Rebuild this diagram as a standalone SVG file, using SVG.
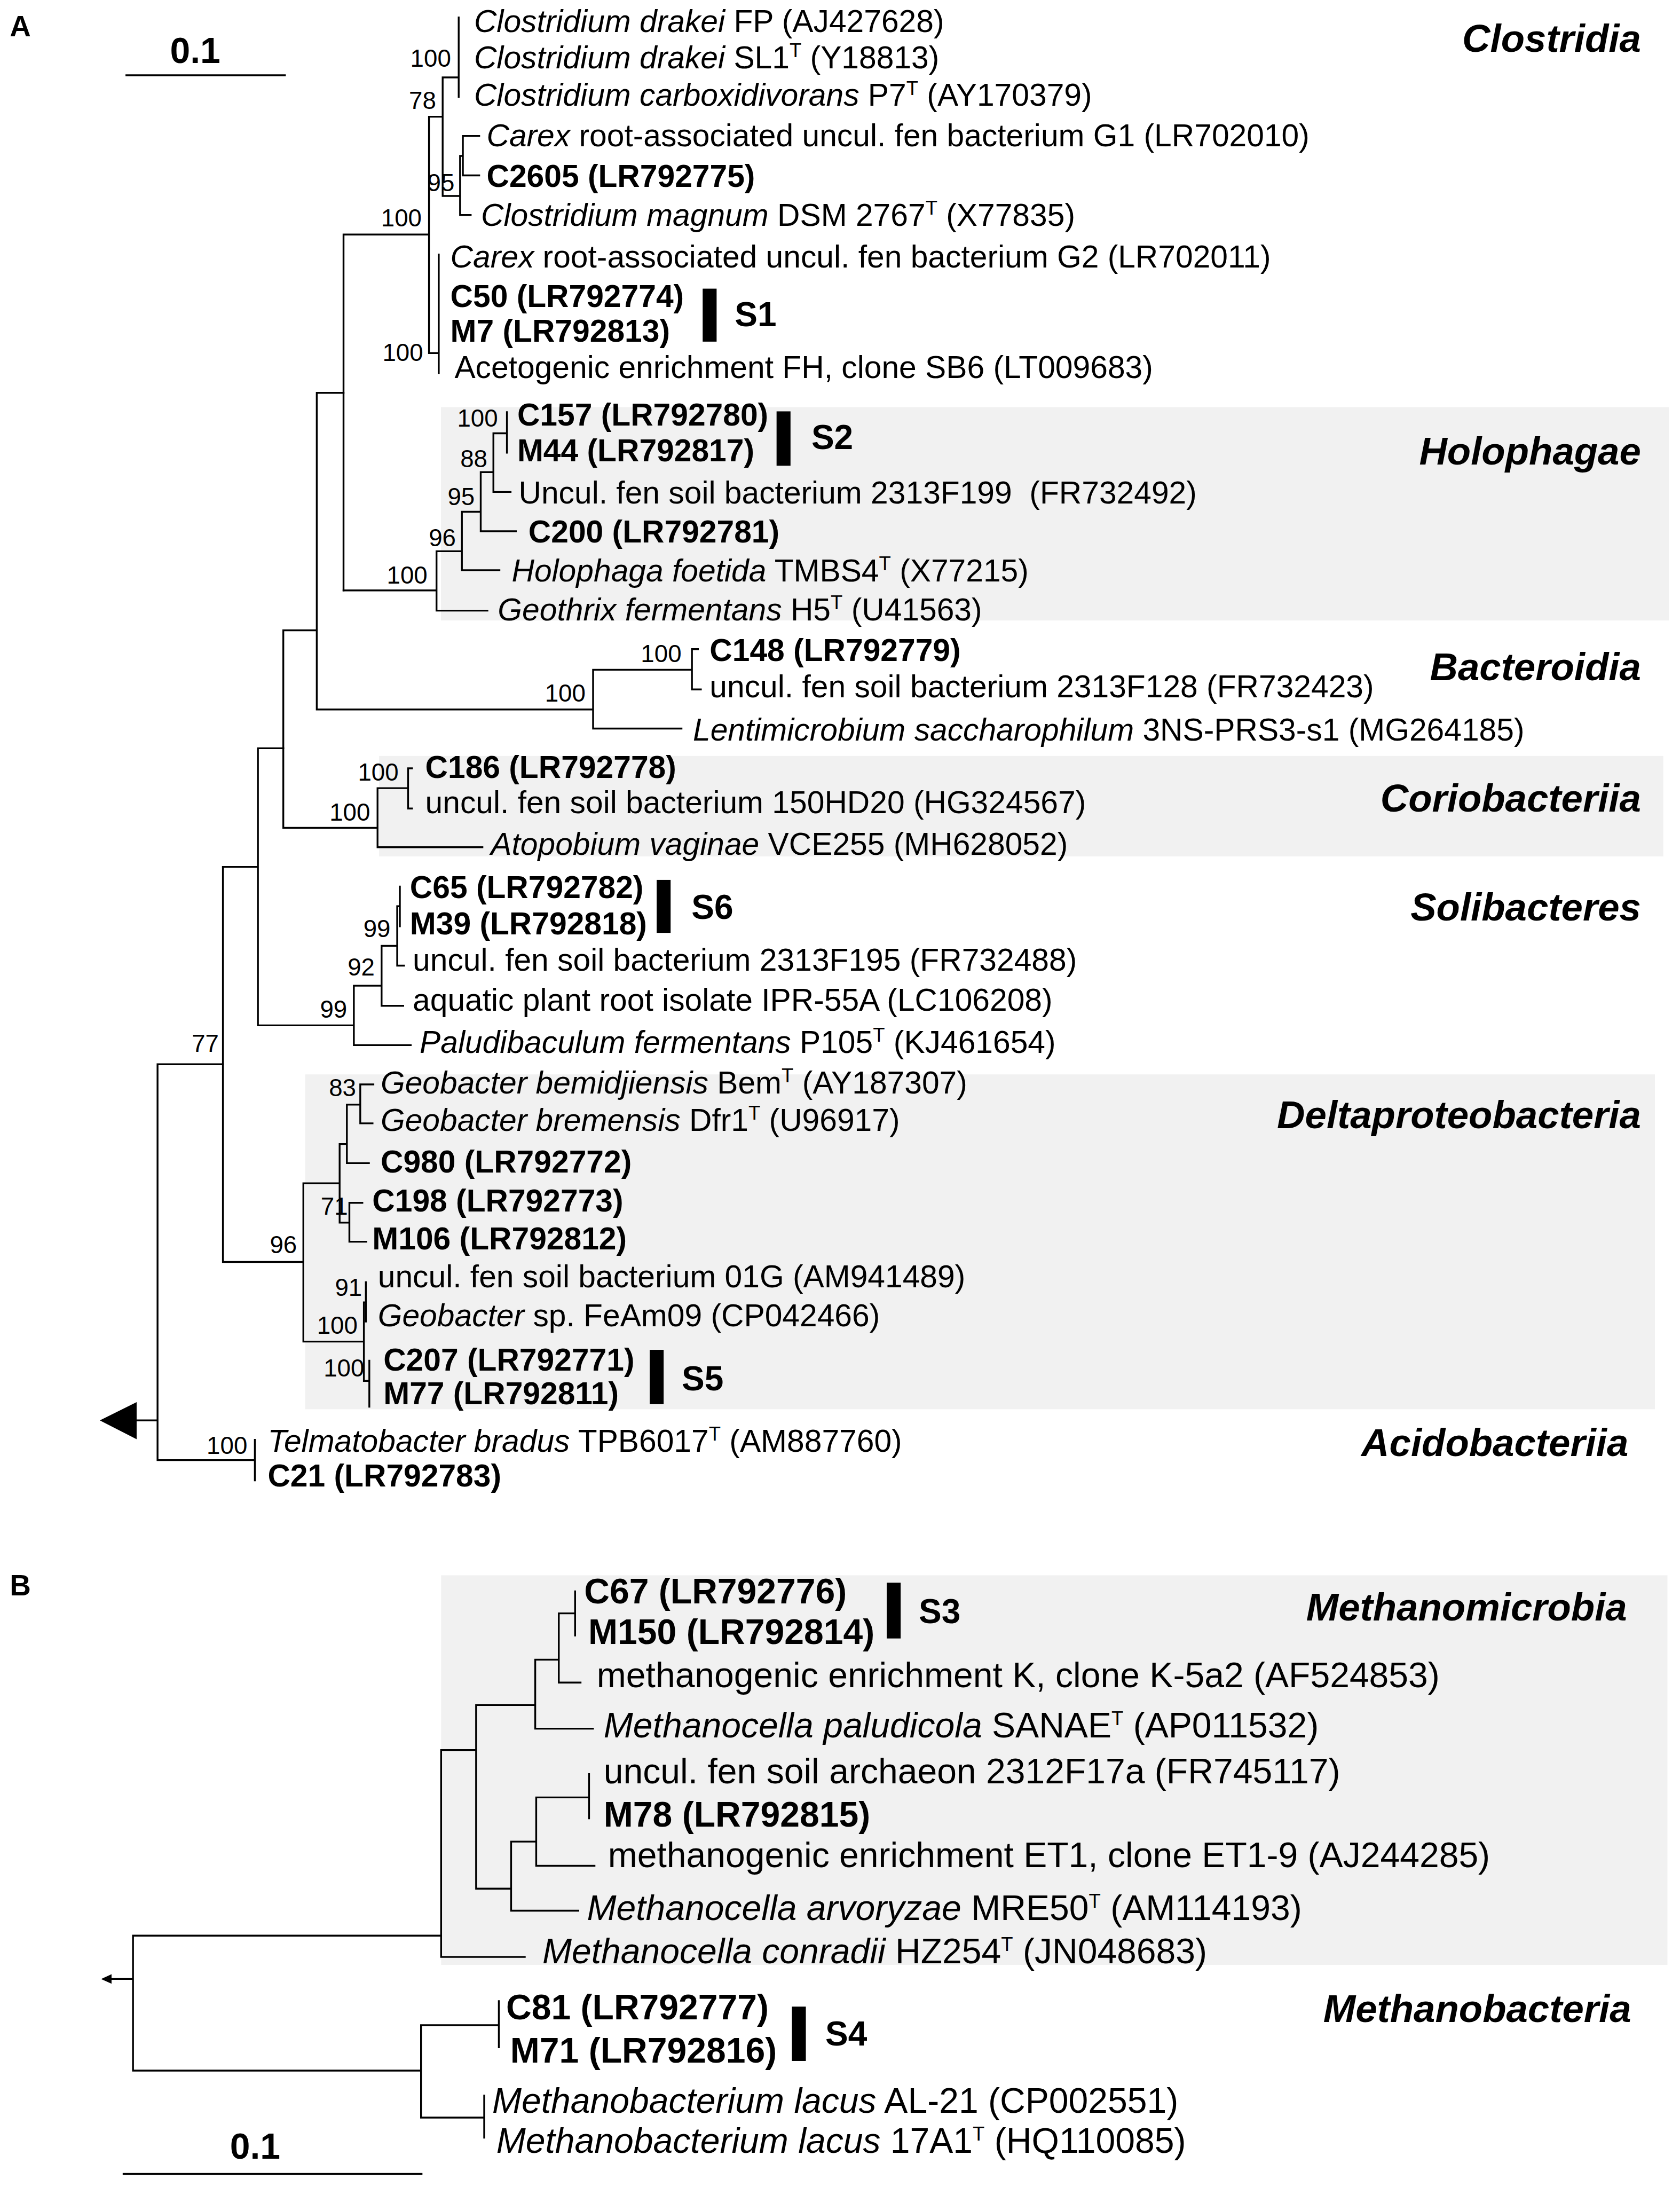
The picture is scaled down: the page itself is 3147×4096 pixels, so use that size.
<svg xmlns="http://www.w3.org/2000/svg" width="3147" height="4096" viewBox="0 0 3147 4096">
<style>
text{font-family:"Liberation Sans",Arial,sans-serif;fill:#000}
.t{font-size:22.5px}
.tb{font-size:25.3px}
.b{font-weight:bold}
.i{font-style:italic}
.bs{font-size:17.5px;text-anchor:end}
.g{font-size:27.8px;font-weight:bold;font-style:italic;text-anchor:end}
.s{font-size:24.5px;font-weight:bold}
.box{fill:#f1f1f1}
.tree path{fill:none;stroke:#000;stroke-width:1.3;stroke-linecap:square}
.sup{font-size:14px}
</style>
<rect width="3147" height="4096" fill="#fff"/>
<g transform="scale(2.61162)">
<g id="boxes">
<rect class="box" x="316.3" y="292" width="880.7" height="153"/>
<rect class="box" x="271.9" y="542.1" width="921.1" height="72.1"/>
<rect class="box" x="218.9" y="770.5" width="968.1" height="240.1"/>
<rect class="box" x="316.4" y="1129.7" width="879.6" height="279.4"/>
</g>
<g id="panel-labels">
<text class="b" x="7" y="26" font-size="21">A</text>
<text class="b" x="7" y="1144" font-size="21">B</text>
</g>
<g id="scale-a"><text class="b" x="140" y="45" font-size="26" text-anchor="middle">0.1</text><path d="M90,54H205" stroke="#000" stroke-width="1.3"/></g>
<g id="scale-b"><text class="b" x="183" y="1548" font-size="26" text-anchor="middle">0.1</text><path d="M88,1559H303" stroke="#000" stroke-width="1.3"/></g>
<g id="connectors" class="tree">
<path d="M329,12.5V69.4M317.5,55.5H329M317.5,55.5V140.5M307.7,83.7H317.5M317.5,140.5H330M330,111.8V154.2M330,154.2H337.6M330,111.8H332M332,97.5V125.8M332,97.5H343.7M332,125.8H343.7M307.7,83.7V253.2M307.7,253.2H314.7M314.7,182.5V267.5M246.4,168.2H307.7M246.4,168.2V423.4"/>
<path d="M246.4,423.4H313.1M313.1,395.3V437.9M313.1,437.9H349.6M313.1,395.3H331.3M331.3,367V408.9M331.3,408.9H358.2M331.3,367H344.8M344.8,338.6V381M344.8,381H370M344.8,338.6H353.9M353.9,310.7V352.8M353.9,352.8H366.2M353.9,310.7H363.6M363.6,295.6V324.6"/>
<path d="M227.2,281.7V508.8M227.2,281.7H246.4M227.2,508.8H425.4M425.4,480.3V522.5M425.4,522.5H488.8M425.4,480.3H496.3M496.3,465.5V494.4M496.3,465.5H500.6M496.3,494.4H502.7"/>
<path d="M203.2,452V593.7M203.2,452H227.2M203.2,593.7H270.8M270.8,565.2V607.6M270.8,607.6H346M270.8,565.2H292.7M292.7,551V579.8M292.7,551H295.5M292.7,579.8H295.5"/>
<path d="M185,536.6V735.3M185,536.6H203.2M159.9,621.7H185M185,735.3H253.8M253.8,706.9V749.5M253.8,749.5H294.6M253.8,706.9H273.7M273.7,678.3V721.3M273.7,721.3H289.2M273.7,678.3H284.9M284.9,649.9V692.5M284.9,692.5H289.8M284.9,649.9H286.8M286.8,635.8V664.3"/>
<path d="M159.9,621.7V905M159.9,905H217.6M217.6,848.6V962.1M217.6,848.6H243.6M243.6,820.4V876.8M243.6,820.4H248.8M248.8,792.2V834.1M248.8,834.1H264.6M248.8,792.2H258.4M258.4,777.7V805.6M258.4,777.7H267.8M258.4,805.6H267.2M243.6,876.8H250.6M250.6,862.6V890.5M250.6,862.6H259.9M250.6,890.5H262.7M217.6,962.1H261M261,934V990.3M261,934H262.4M262.4,919.5V947.7M261,990.3H264.9M264.9,975.8V1008.8"/>
<path d="M113,763.2H159.9M113,763.2V1047.1M113,1047.1H182.8M182.8,1032.6V1061.6M98,1018.6H113"/>
<path d="M80,1419.2H95.4M95.4,1388.1V1484.9M95.4,1388.1H316.4M316.4,1255V1403.4M316.4,1403.4H376.4M316.4,1255H341.5M341.5,1222.7V1354.4M341.5,1222.7H383.9M383.9,1190.2V1239.7M383.9,1239.7H425.3M383.9,1190.2H400.8M400.8,1157V1206.6M400.8,1206.6H416.4M400.8,1157H412.5M412.5,1141.2V1172.9M341.5,1354.4H366.6M366.6,1320.7V1370.2M366.6,1370.2H414.8M366.6,1320.7H384.6M384.6,1289V1338M384.6,1338H426.4M384.6,1289H422.5M422.5,1272.3V1304M95.4,1484.9H302M302,1452.3V1518.6M302,1452.3H357.8M357.8,1435.1V1468.2M302,1518.6H347.3M347.3,1502.8V1533"/>
<polygon points="71.6,1018.6 98,1005.5 98,1032.1" fill="#000"/>
<polygon points="72.5,1419.2 80,1415.8 80,1422.6" fill="#000"/>
</g>
<g id="bootstrap">
<text class="bs" x="323.5" y="47.7">100</text>
<text class="bs" x="312.8" y="78.1">78</text>
<text class="bs" x="326" y="137.1">95</text>
<text class="bs" x="302.5" y="162.2">100</text>
<text class="bs" x="303.5" y="258.8">100</text>
<text class="bs" x="357.1" y="305.9">100</text>
<text class="bs" x="349.6" y="334.9">88</text>
<text class="bs" x="340.5" y="362.3">95</text>
<text class="bs" x="327" y="391.8">96</text>
<text class="bs" x="306.6" y="418.6">100</text>
<text class="bs" x="488.8" y="474.8">100</text>
<text class="bs" x="420" y="503.1">100</text>
<text class="bs" x="285.9" y="559.7">100</text>
<text class="bs" x="265.5" y="588.5">100</text>
<text class="bs" x="280.1" y="672">99</text>
<text class="bs" x="268.8" y="699.6">92</text>
<text class="bs" x="249" y="729.7">99</text>
<text class="bs" x="157" y="754.5">77</text>
<text class="bs" x="255.4" y="786">83</text>
<text class="bs" x="249.5" y="871.2">71</text>
<text class="bs" x="213" y="898.6">96</text>
<text class="bs" x="259.7" y="929.2">91</text>
<text class="bs" x="256.5" y="956.6">100</text>
<text class="bs" x="261.3" y="987.2">100</text>
<text class="bs" x="177.4" y="1042.8">100</text>
</g>
<g id="groups">
<text class="g" x="1177" y="37">Clostridia</text>
<text class="g" x="1177" y="333">Holophagae</text>
<text class="g" x="1177" y="488">Bacteroidia</text>
<text class="g" x="1177" y="582">Coriobacteriia</text>
<text class="g" x="1177" y="660">Solibacteres</text>
<text class="g" x="1177" y="809">Deltaproteobacteria</text>
<text class="g" x="1168" y="1044">Acidobacteriia</text>
<text class="g" x="1167" y="1162">Methanomicrobia</text>
<text class="g" x="1170" y="1450">Methanobacteria</text>
</g>
<g id="s-labels">
<rect x="504" y="207" width="10" height="38"/><text class="s" x="527" y="234">S1</text>
<rect x="557" y="295" width="10" height="39"/><text class="s" x="582" y="322">S2</text>
<rect x="471" y="631" width="10" height="38"/><text class="s" x="496" y="659">S6</text>
<rect x="466" y="968" width="10" height="39"/><text class="s" x="489" y="997">S5</text>
<rect x="636" y="1135" width="10" height="40"/><text class="s" x="659" y="1164">S3</text>
<rect x="568" y="1439" width="10" height="39"/><text class="s" x="592" y="1467">S4</text>
</g>
<g id="leaves-a" class="t">
<g id="n1"><text class="t" x="340" y="23"><tspan class="i">Clostridium drakei</tspan> FP (AJ427628)</text></g>
<g id="n2"><text class="t" x="340" y="49"><tspan class="i">Clostridium drakei</tspan> SL1<tspan class="sup" dy="-8">T</tspan><tspan dy="8"> (Y18813)</tspan></text></g>
<g id="n3"><text class="t" x="340" y="76"><tspan class="i">Clostridium carboxidivorans</tspan> P7<tspan class="sup" dy="-8">T</tspan><tspan dy="8"> (AY170379)</tspan></text></g>
<g id="n4"><text class="t" x="349" y="105"><tspan class="i">Carex</tspan> root-associated uncul. fen bacterium G1 (LR702010)</text></g>
<g id="n5"><text class="t b" x="349" y="134">C2605 (LR792775)</text></g>
<g id="n6"><text class="t" x="345" y="162"><tspan class="i">Clostridium magnum</tspan> DSM 2767<tspan class="sup" dy="-8">T</tspan><tspan dy="8"> (X77835)</tspan></text></g>
<g id="n7"><text class="t" x="323" y="192"><tspan class="i">Carex</tspan> root-associated uncul. fen bacterium G2 (LR702011)</text></g>
<g id="n8"><text class="t b" x="323" y="220">C50 (LR792774)</text></g>
<g id="n9"><text class="t b" x="323" y="245">M7 (LR792813)</text></g>
<g id="n10"><text class="t" x="326" y="271">Acetogenic enrichment FH, clone SB6 (LT009683)</text></g>
<g id="n11"><text class="t b" x="371" y="305">C157 (LR792780)</text></g>
<g id="n12"><text class="t b" x="371" y="331">M44 (LR792817)</text></g>
<g id="n13"><text class="t" x="372" y="361" xml:space="preserve">Uncul. fen soil bacterium 2313F199  (FR732492)</text></g>
<g id="n14"><text class="t b" x="379" y="389">C200 (LR792781)</text></g>
<g id="n15"><text class="t" x="367" y="417"><tspan class="i">Holophaga foetida</tspan> TMBS4<tspan class="sup" dy="-8">T</tspan><tspan dy="8"> (X77215)</tspan></text></g>
<g id="n16"><text class="t" x="357" y="445"><tspan class="i">Geothrix fermentans</tspan> H5<tspan class="sup" dy="-8">T</tspan><tspan dy="8"> (U41563)</tspan></text></g>
<g id="n17"><text class="t b" x="509" y="474">C148 (LR792779)</text></g>
<g id="n18"><text class="t" x="509" y="500">uncul. fen soil bacterium 2313F128 (FR732423)</text></g>
<g id="n19"><text class="t" x="497" y="531"><tspan class="i">Lentimicrobium saccharophilum</tspan> 3NS-PRS3-s1 (MG264185)</text></g>
<g id="n20"><text class="t b" x="305" y="558">C186 (LR792778)</text></g>
<g id="n21"><text class="t" x="305" y="583">uncul. fen soil bacterium 150HD20 (HG324567)</text></g>
<g id="n22"><text class="t" x="352" y="613"><tspan class="i">Atopobium vaginae</tspan> VCE255 (MH628052)</text></g>
<g id="n23"><text class="t b" x="294" y="644">C65 (LR792782)</text></g>
<g id="n24"><text class="t b" x="294" y="670">M39 (LR792818)</text></g>
<g id="n25"><text class="t" x="296" y="696">uncul. fen soil bacterium 2313F195 (FR732488)</text></g>
<g id="n26"><text class="t" x="296" y="725">aquatic plant root isolate IPR-55A (LC106208)</text></g>
<g id="n27"><text class="t" x="301" y="755"><tspan class="i">Paludibaculum fermentans</tspan> P105<tspan class="sup" dy="-8">T</tspan><tspan dy="8"> (KJ461654)</tspan></text></g>
<g id="n28"><text class="t" x="273" y="784"><tspan class="i">Geobacter bemidjiensis</tspan> Bem<tspan class="sup" dy="-8">T</tspan><tspan dy="8"> (AY187307)</tspan></text></g>
<g id="n29"><text class="t" x="273" y="811"><tspan class="i">Geobacter bremensis</tspan> Dfr1<tspan class="sup" dy="-8">T</tspan><tspan dy="8"> (U96917)</tspan></text></g>
<g id="n30"><text class="t b" x="273" y="841">C980 (LR792772)</text></g>
<g id="n31"><text class="t b" x="267" y="869">C198 (LR792773)</text></g>
<g id="n32"><text class="t b" x="267" y="896">M106 (LR792812)</text></g>
<g id="n33"><text class="t" x="271" y="923">uncul. fen soil bacterium 01G (AM941489)</text></g>
<g id="n34"><text class="t" x="271" y="951"><tspan class="i">Geobacter</tspan> sp. FeAm09 (CP042466)</text></g>
<g id="n35"><text class="t b" x="275" y="983">C207 (LR792771)</text></g>
<g id="n36"><text class="t b" x="275" y="1007">M77 (LR792811)</text></g>
<g id="n37"><text class="t" x="192" y="1041"><tspan class="i">Telmatobacter bradus</tspan> TPB6017<tspan class="sup" dy="-8">T</tspan><tspan dy="8"> (AM887760)</tspan></text></g>
<g id="n38"><text class="t b" x="192" y="1066">C21 (LR792783)</text></g>
</g>
<g id="leaves-b">
<g id="m1"><text class="tb b" x="419" y="1150">C67 (LR792776)</text></g>
<g id="m2"><text class="tb b" x="422" y="1179">M150 (LR792814)</text></g>
<g id="m3"><text class="tb" x="428" y="1210">methanogenic enrichment K, clone K-5a2 (AF524853)</text></g>
<g id="m4"><text class="tb" x="433" y="1246"><tspan class="i">Methanocella paludicola</tspan> SANAE<tspan class="sup" dy="-9">T</tspan><tspan dy="9"> (AP011532)</tspan></text></g>
<g id="m5"><text class="tb" x="433" y="1279">uncul. fen soil archaeon 2312F17a (FR745117)</text></g>
<g id="m6"><text class="tb b" x="433" y="1310">M78 (LR792815)</text></g>
<g id="m7"><text class="tb" x="436" y="1339">methanogenic enrichment ET1, clone ET1-9 (AJ244285)</text></g>
<g id="m8"><text class="tb" x="421" y="1377"><tspan class="i">Methanocella arvoryzae</tspan> MRE50<tspan class="sup" dy="-9">T</tspan><tspan dy="9"> (AM114193)</tspan></text></g>
<g id="m9"><text class="tb" x="389" y="1408"><tspan class="i">Methanocella conradii</tspan> HZ254<tspan class="sup" dy="-9">T</tspan><tspan dy="9"> (JN048683)</tspan></text></g>
<g id="m10"><text class="tb b" x="363" y="1448">C81 (LR792777)</text></g>
<g id="m11"><text class="tb b" x="366" y="1479">M71 (LR792816)</text></g>
<g id="m12"><text class="tb" x="353" y="1515"><tspan class="i">Methanobacterium lacus</tspan> AL-21 (CP002551)</text></g>
<g id="m13"><text class="tb" x="356" y="1544"><tspan class="i">Methanobacterium lacus</tspan> 17A1<tspan class="sup" dy="-9">T</tspan><tspan dy="9"> (HQ110085)</tspan></text></g>
</g>
</g>
</svg>
